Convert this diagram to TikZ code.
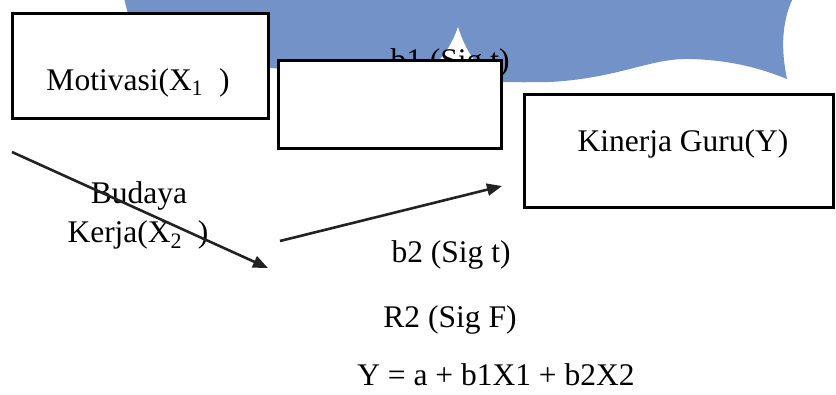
\documentclass[tikz,border=0pt]{standalone}
\usepackage{fontspec}
\setmainfont{Liberation Serif}
\usepackage{xcolor}
\usepackage{tikz}
\usetikzlibrary{arrows.meta,positioning,calc}

\definecolor{waveblue}{RGB}{114,146,200}
\definecolor{linkgray}{RGB}{34,34,34}

\begin{document}
\begin{tikzpicture}[x=1pt,y=-1pt,font=\fontsize{31.5}{38}\selectfont,
    box/.style={draw=black,fill=white,line width=3pt,inner sep=0pt},
    lbl/.style={anchor=base,inner sep=0pt},
    link/.style={-{Triangle[length=15pt,width=12pt]},linkgray,line width=2.6pt}]
                \useasboundingbox (0,0) rectangle (836,394);
                \clip (0,0) rectangle (836,394);
                % wave shape behind
                \fill[waveblue] (124,-2) -- (138,55) .. controls (200,60) and (400,85) .. (550,82)
                .. controls (620,78) and (650,58) .. (690,59) .. controls (730,60) and (760,68) .. (787,79)
                .. controls (782,55) and (780,25) .. (793,-2) -- cycle;
                \fill[white] (436,64) .. controls (449,50) and (455,36) .. (458,27)
                .. controls (462,40) and (468,53) .. (477,64) -- cycle;
                \node[lbl] (b1) at (450,70) {b1 (Sig t)};
                % boxes
                \node[box,minimum width=256pt,minimum height=105pt] (mot) at (140,65.5) {};
                \node[box,minimum width=223pt,minimum height=88pt] (mid) at (389.5,104) {};
                \node[box,minimum width=309pt,minimum height=113pt] (kin) at (678.5,150.5) {};
                \node[lbl] (motT) at (138,90) {Motivasi(X\textsubscript{1}\ \ )};
                \node[lbl] (kinT) at (683,151) {Kinerja Guru(Y)};
                \node[lbl] (bud) at (139,203) {Budaya};
                \node[lbl] (ker) at (138,242) {Kerja(X\textsubscript{2}\ \ )};
                \node[lbl] (b2) at (451,262) {b2 (Sig t)};
                \node[lbl] (r2) at (450,327) {R2 (Sig F)};
                \node[lbl] (eq) at (496,385) {Y = a + b1X1 + b2X2};
                % arrows
                \coordinate (p1) at (12,152);
                \coordinate (q1) at (268,268);
                \coordinate (p2) at (280,241);
                \coordinate (q2) at (502,186);
                \draw[link] (p1) -- (q1);
                \draw[link] (p2) -- (q2);
            \end{tikzpicture}
\end{document}
